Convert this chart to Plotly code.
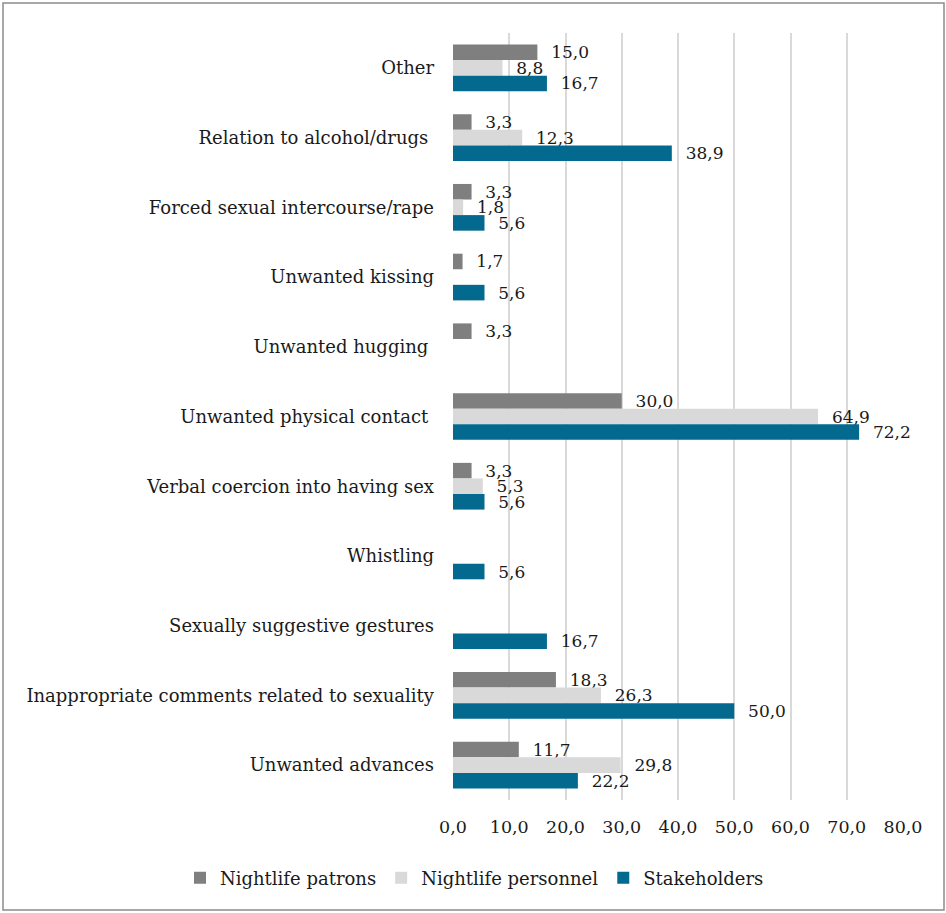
import plotly.graph_objects as go

categories = [
    "Other",
    "Relation to alcohol/drugs ",
    "Forced sexual intercourse/rape",
    "Unwanted kissing",
    "Unwanted hugging ",
    "Unwanted physical contact ",
    "Verbal coercion into having sex",
    "Whistling",
    "Sexually suggestive gestures",
    "Inappropriate comments related to sexuality",
    "Unwanted advances",
]
patrons = [15.0, 3.3, 3.3, 1.7, 3.3, 30.0, 3.3, None, None, 18.3, 11.7]
personnel = [8.8, 12.3, 1.8, None, None, 64.9, 5.3, None, None, 26.3, 29.8]
stakeholders = [16.7, 38.9, 5.6, 5.6, None, 72.2, 5.6, 5.6, 16.7, 50.0, 22.2]
x_ticks = [0, 10, 20, 30, 40, 50, 60, 70, 80]

series = [
    ("Nightlife patrons", patrons, "#7f7f7f"),
    ("Nightlife personnel", personnel, "#d9d9d9"),
    ("Stakeholders", stakeholders, "#03698e"),
]

font_family = "DejaVu Serif, Liberation Serif, serif"

fig = go.Figure()
for name, vals, col in series:
    fig.add_trace(go.Bar(
        y=categories, x=vals, name=name, orientation="h",
        marker=dict(color=col, line=dict(width=0)),
        texttemplate="  %{x:.1f}", textposition="outside",
        textfont=dict(family=font_family, size=17, color="#1a1a1a"),
        constraintext="none",
        cliponaxis=False,
    ))

W, H = 946, 913
L, R, T, B = 453, 43, 33, 113
pw, ph = W - L - R, H - T - B

def px_x(p):
    return (p - L) / pw

def px_y(p):
    return (H - B - p) / ph

fig.update_layout(
    width=W, height=H,
    margin=dict(l=L, r=R, t=T, b=B),
    barmode="group", bargap=0.33, bargroupgap=0,
    separators=", ",
    paper_bgcolor="white", plot_bgcolor="white",
    font=dict(family=font_family, size=18, color="#1a1a1a"),
    xaxis=dict(
        range=[0, 80], tickvals=x_ticks, tickformat=".1f",
        showgrid=True, gridcolor="#d9d9d9", gridwidth=2,
        zeroline=False, showline=False, ticks="",
        ticklabelstandoff=14,
        tickfont=dict(size=17.5), fixedrange=True,
    ),
    yaxis=dict(
        autorange="reversed", showgrid=False, showline=False, ticks="",
        ticklabelstandoff=18, tickfont=dict(size=18),
    ),
    legend=dict(
        orientation="h", xref="paper", x=px_x(180), xanchor="left",
        yref="paper", y=px_y(878), yanchor="middle",
        font=dict(size=18), traceorder="normal",
        bgcolor="rgba(0,0,0,0)", itemwidth=30,
    ),
    shapes=[dict(
        type="rect", xref="paper", yref="paper",
        x0=px_x(3), x1=px_x(944), y0=px_y(910), y1=px_y(3),
        line=dict(color="#8c8c8c", width=1.5), fillcolor="rgba(0,0,0,0)",
        layer="below",
    )],
)

fig.write_html("out.html")
